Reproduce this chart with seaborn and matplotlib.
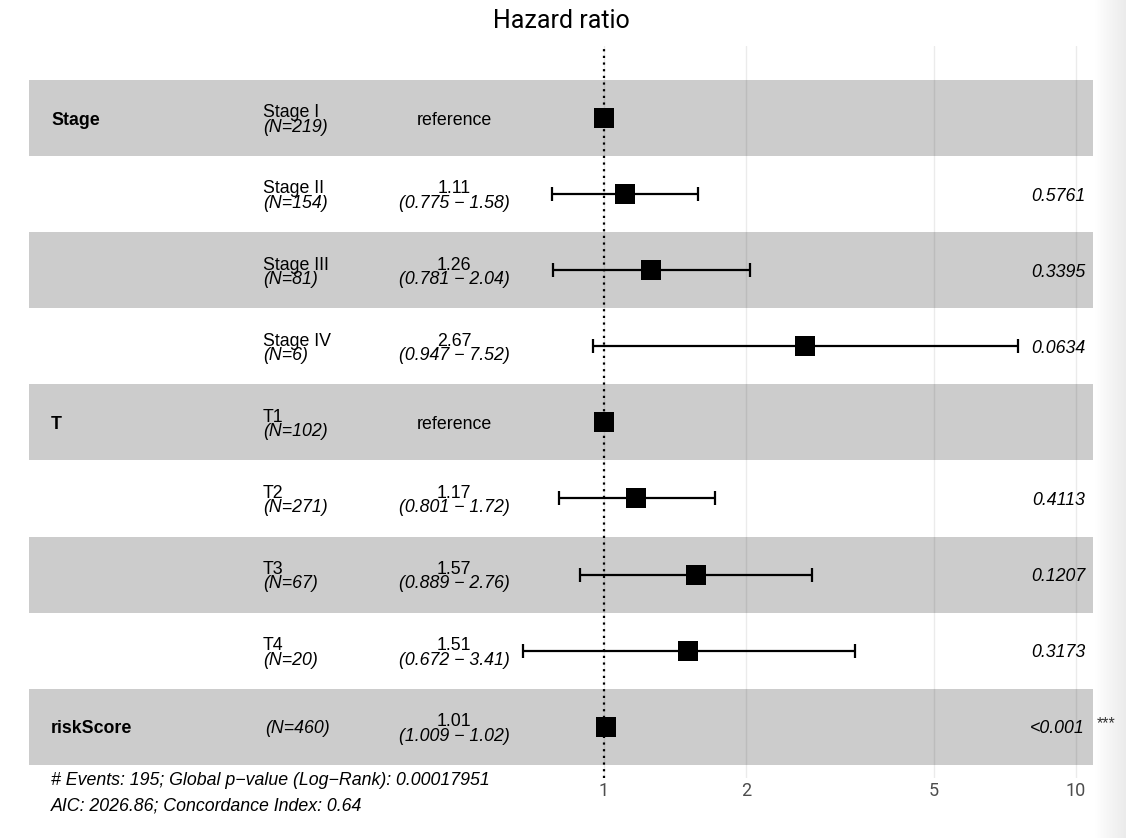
# forest_plot.py

import numpy as np
import pandas as pd
import matplotlib
matplotlib.use("Agg")
import matplotlib.pyplot as plt
import matplotlib.transforms as mtransforms
from matplotlib.ticker import NullLocator
import seaborn as sns

sns.set_style("white")
plt.rcParams["font.family"] = ["Liberation Sans", "DejaVu Sans"]
plt.rcParams["text.color"] = "black"

# Cox model results, one row per level
variables = ["Stage", "", "", "", "T", "", "", "", "riskScore"]
levels = ["Stage I", "Stage II", "Stage III", "Stage IV", "T1", "T2", "T3", "T4", ""]
n_obs = [219, 154, 81, 6, 102, 271, 67, 20, 460]
hr = [1, 1.11, 1.26, 2.67, 1, 1.17, 1.57, 1.51, 1.01]
ci_low = [np.nan, 0.775, 0.781, 0.947, np.nan, 0.801, 0.889, 0.672, 1.009]
ci_high = [np.nan, 1.58, 2.04, 7.52, np.nan, 1.72, 2.76, 3.41, 1.02]
p_values = ["", "0.5761", "0.3395", "0.0634", "", "0.4113", "0.1207", "0.3173", "<0.001"]
stars = ["", "", "", "", "", "", "", "", "***"]
x_ticks = [1, 2, 5, 10]

footer = ["# Events: 195; Global p\u2212value (Log\u2212Rank): 0.00017951",
          "AIC: 2026.86; Concordance Index: 0.64"]

df = pd.DataFrame({"var": variables, "level": levels, "N": n_obs, "hr": hr,
                   "lo": ci_low, "hi": ci_high, "p": p_values, "stars": stars})
df["row"] = np.arange(1, len(df) + 1)

W, H = 1126, 838
fig = plt.figure(figsize=(W / 100, H / 100), dpi=100)

# panel placement (pixels)
left, right, top, bottom = 29, 1093, 46, 778
ax = fig.add_axes([left / W, 1 - bottom / H, (right - left) / W, (bottom - top) / H])
ax.set_xscale("log")
x0, dec = 604, 472  # pixel of HR=1, pixels per decade
ax.set_xlim(10 ** ((left - x0) / dec), 10 ** ((right - x0) / dec))
ax.set_ylim(9.673, 0.054)

# grid first, translucent bands over it
ax.set_xticks(x_ticks)
ax.set_xticklabels([str(t) for t in x_ticks])
ax.xaxis.set_minor_locator(NullLocator())
ax.grid(axis="x", color="#ebebeb", lw=1)
ax.set_axisbelow(True)
for r in df["row"]:
    if r % 2 == 1:
        ax.axhspan(r - 0.5, r + 0.5, color="black", alpha=0.2, lw=0, zorder=1)

ax.axvline(1, color="black", ls=(0, (1, 2)), lw=1.6, zorder=2)

ci = df.dropna(subset=["lo"])
ax.errorbar(ci["hr"], ci["row"], xerr=[ci["hr"] - ci["lo"], ci["hi"] - ci["hr"]],
            fmt="none", ecolor="black", elinewidth=1.6, capsize=5, capthick=1.6, zorder=3)
sns.scatterplot(data=df, x="hr", y="row", marker="s", s=210, color="black",
                linewidth=0, ax=ax, zorder=4, legend=False)

ax.set_xlabel("")
ax.set_ylabel("")
ax.set_yticks([])
for s in ax.spines.values():
    s.set_visible(False)
ax.tick_params(axis="x", length=0, pad=3, labelsize=13, colors="#4d4d4d")
for lab in ax.get_xticklabels():
    lab.set_fontfamily(["Roboto", "DejaVu Sans"])

# text columns: x in axes fraction, y in data
trans = mtransforms.blended_transform_factory(ax.transAxes, ax.transData)
def ax_x(px):
    return (px - left) / (right - left)

fs = 12.8
off = 0.095
dy = 0.028
for _, row in df.iterrows():
    y = row["row"] + dy
    if row["var"]:
        ax.text(ax_x(51), y, row["var"], transform=trans, fontsize=fs,
                fontweight="bold", va="center", ha="left")
    nlab = f"(N={row['N']})"
    if row["level"]:
        ax.text(ax_x(263), y - off, row["level"], transform=trans, fontsize=fs,
                va="center", ha="left")
        ax.text(ax_x(263), y + off, nlab, transform=trans, fontsize=fs,
                style="italic", va="center", ha="left")
    else:
        ax.text(ax_x(265), y, nlab, transform=trans, fontsize=fs,
                style="italic", va="center", ha="left")
    if np.isnan(row["lo"]):
        ax.text(ax_x(454), y, "reference", transform=trans, fontsize=fs,
                va="center", ha="center")
    else:
        ax.text(ax_x(454), y - off, f"{row['hr']:g}", transform=trans, fontsize=fs,
                va="center", ha="center")
        ax.text(ax_x(454), y + off, f"({row['lo']:g} \u2212 {row['hi']:g})",
                transform=trans, fontsize=fs, style="italic", va="center", ha="center")
    if row["p"]:
        ax.text(ax_x(1085), y, row["p"], transform=trans, fontsize=fs,
                style="italic", va="center", ha="right", clip_on=False)
    if row["stars"]:
        ax.text(ax_x(1097), y - 0.07, row["stars"], transform=trans, fontsize=11.5,
                color="#333333", va="center", ha="left", clip_on=False)

fig.text(51 / W, 1 - 780 / H, footer[0], fontsize=fs, style="italic", va="center", ha="left")
fig.text(51 / W, 1 - 806 / H, footer[1], fontsize=fs, style="italic", va="center", ha="left")

fig.text(561 / W, 1 - 21 / H, "Hazard ratio", fontsize=18, va="center", ha="center",
         family=["Roboto", "DejaVu Sans"])

# soft gray edge on the right
gax = fig.add_axes([1094 / W, 0, (W - 1094) / W, 1], zorder=-1)
grad = np.linspace(1.0, 0.92, 64).reshape(1, -1)
gax.imshow(grad, aspect="auto", cmap="gray", vmin=0, vmax=1)
gax.axis("off")

fig.savefig("out.png", dpi=100)
